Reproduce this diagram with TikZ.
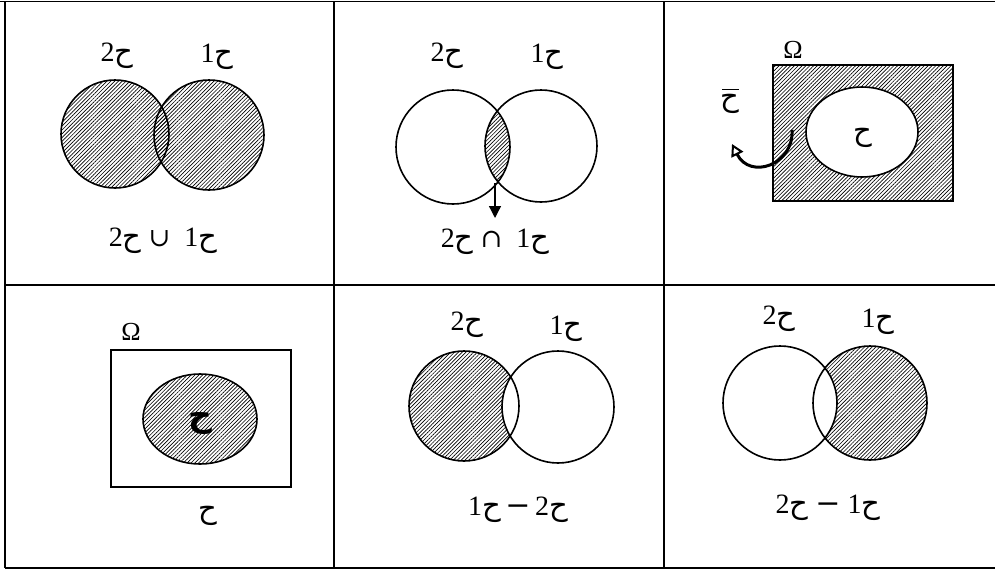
\documentclass[tikz,border=0pt]{standalone}
\usepackage{fontspec}
\setmainfont{Liberation Serif}
\newfontfamily\arabicfont[Script=Arabic]{DejaVu Sans}
\newfontfamily\opfont{DejaVu Serif}
\TeXXeTstate=1
\usetikzlibrary{patterns.meta,arrows.meta}
\newcommand\hh[1]{\beginR{\arabicfont\fontsize{29}{32}\selectfont ح}#1\endR}
\newcommand\hhb{\beginR{\arabicfont\bfseries\fontsize{33}{36}\selectfont ح}\endR}
\newcommand\opr[1]{{\opfont\fontsize{26}{30}\selectfont #1}}
\newcommand\mns{{\opfont\fontsize{30}{32}\selectfont −}}
\begin{document}
\begin{tikzpicture}[x=1pt,y=-1pt,
  grid/.style={line width=1.4pt},
  setline/.style={draw,line width=1.6pt},
  hatch/.style={pattern={Lines[angle=45,distance=2.7pt,line width=0.65pt]}},
  lbl/.style={font=\fontsize{28}{30}\selectfont, inner sep=0pt},
  omg/.style={font=\fontsize{26}{28}\selectfont, inner sep=0pt}]
\useasboundingbox (0,0) rectangle (995,570);
% table
\draw[grid] (0,1.5) -- (995,1.5);
\draw[grid] (5,568) -- (995,568);
\draw[grid] (5,1.5) -- (5,568);
\draw[grid] (334,1.5) -- (334,568);
\draw[grid] (664,1.5) -- (664,568);
\draw[grid] (5,285) -- (995,285);

% ---- cell 1: union
\fill[hatch] (115,134) circle (54);
\fill[hatch] (209,135) circle (55);
\draw[setline] (115,134) circle (54);
\draw[setline] (209,135) circle (55);
\node[lbl] (c1a) at (117,56) {\hh{2}};
\node[lbl] (c1b) at (217,57) {\hh{1}};
\node[lbl] (c1e) at (163,241) {\hh{2}\ \opr{∪}\ \ \hh{1}};

% ---- cell 2: intersection
\begin{scope}
  \clip (453,147) circle (57);
  \fill[hatch] (541,146) circle (56);
\end{scope}
\draw[setline] (453,147) circle (57);
\draw[setline] (541,146) circle (56);
\coordinate (lensbot) at (495,183);
\coordinate (arrend) at (495,218);
\draw[line width=1.3pt,-{Triangle[length=12pt,width=12pt]}] (lensbot) -- (arrend);
\node[lbl] (c2a) at (447,56) {\hh{2}};
\node[lbl] (c2b) at (547,57) {\hh{1}};
\node[lbl] (c2e) at (495,242) {\hh{2}\ \opr{∩}\ \ \hh{1}};

% ---- cell 3: complement
\fill[hatch] (773,65) rectangle (953,201);
\draw[line width=1.2pt] (773,65) rectangle (953,201);
\fill[white] (862,132) ellipse [x radius=56, y radius=45];
\draw[setline] (862,132) ellipse [x radius=56, y radius=45];
\node[lbl] (c3h) at (863,138) {\hh{}};
\node[omg] (c3o) at (793,50) {Ω};
\node[lbl] (c3c) at (730,104) {\hh{}};
\draw[line width=0.9pt] (722,89) -- (739,89);
\coordinate (cs) at (792,130);
\coordinate (ce) at (732,144);
\draw[line width=3pt,-{Triangle[open,length=12pt,width=13pt,line width=2pt]}] (cs) .. controls (794,165) and (750,180) .. (ce);

% ---- cell 4: set in universe
\draw[line width=1.1pt] (111,350) rectangle (291,487);
\fill[hatch] (200,419) ellipse [x radius=57, y radius=45];
\draw[setline] (200,419) ellipse [x radius=57, y radius=45];
\node[lbl] (c4h) at (200,424) {\hhb};
\node[omg] (c4o) at (131,332) {Ω};
\node[lbl] (c4l) at (208,516) {\hh{}};

% ---- cell 5: A2 minus A1 (left)
\fill[hatch] (464,406) circle (55);
\begin{scope}
  \clip (464,406) circle (55);
  \fill[white] (558,407) circle (56);
\end{scope}
\draw[setline] (464,406) circle (55);
\draw[setline] (558,407) circle (56);
\node[lbl] (c5a) at (467,325) {\hh{2}};
\node[lbl] (c5b) at (566,329) {\hh{1}};
\node[lbl] (c5e) at (518,510) {\hh{1}\,\mns\,\hh{2}};

% ---- cell 6: right minus left
\fill[hatch] (870,403) circle (57);
\begin{scope}
  \clip (870,403) circle (57);
  \fill[white] (780,403) circle (57);
\end{scope}
\draw[setline] (780,403) circle (57);
\draw[setline] (870,403) circle (57);
\node[lbl] (c6a) at (779,319) {\hh{2}};
\node[lbl] (c6b) at (878,322) {\hh{1}};
\node[lbl] (c6e) at (828,508) {\hh{2}\ \mns\ \hh{1}};
\end{tikzpicture}
\end{document}
